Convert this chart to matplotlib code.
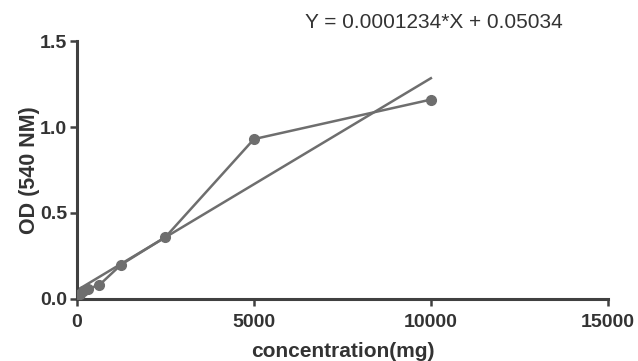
import numpy as np
import matplotlib
matplotlib.use('Agg')
import matplotlib.pyplot as plt

plt.rcParams['font.family'] = ['Liberation Sans', 'DejaVu Sans']

# standard curve data
conc = [0, 78, 156, 312.5, 625, 1250, 2500, 5000, 10000]
od = [0.02, 0.03, 0.045, 0.06, 0.08, 0.20, 0.36, 0.93, 1.16]

slope = 0.0001234
intercept = 0.05034
fit_x = [0, 10000]

gray = '#6e6e6e'

def main():
    fig = plt.figure(figsize=(6.38, 3.61), dpi=100)
    ax = fig.add_axes([0.1207, 0.172, 0.832, 0.714])

    ax.plot(conc, od, color=gray, lw=1.8, marker='o', ms=7, zorder=3)
    fit_y = [slope * x + intercept for x in fit_x]
    ax.plot(fit_x, fit_y, color=gray, lw=1.8, zorder=2)

    ax.set_xlim(0, 15000)
    ax.set_ylim(0, 1.5)
    ax.set_xticks([0, 5000, 10000, 15000])
    ax.set_yticks([0.0, 0.5, 1.0, 1.5])
    ax.set_yticklabels(['0.0', '0.5', '1.0', '1.5'])

    for s in ['top', 'right']:
        ax.spines[s].set_visible(False)
    for s in ['left', 'bottom']:
        ax.spines[s].set_linewidth(2.2)
        ax.spines[s].set_color('#404040')
    ax.tick_params(width=1.8, length=5, color='#404040', labelsize=14,
                   labelcolor='#333333', pad=2)
    ax.tick_params(axis='x', pad=6)
    for lab in ax.get_xticklabels() + ax.get_yticklabels():
        lab.set_fontweight('bold')

    ax.set_xlabel('concentration(mg)', fontsize=15, fontweight='bold',
                  color='#333333', labelpad=8)
    ax.set_ylabel('OD (540 NM)', fontsize=15.5, fontweight='bold',
                  color='#333333', labelpad=0)

    fig.text(0.68, 0.939, 'Y = 0.0001234*X + 0.05034', ha='center',
             va='center', fontsize=15, color='#333333')

    fig.savefig('out.png', dpi=100)

if __name__ == '__main__':
    main()
